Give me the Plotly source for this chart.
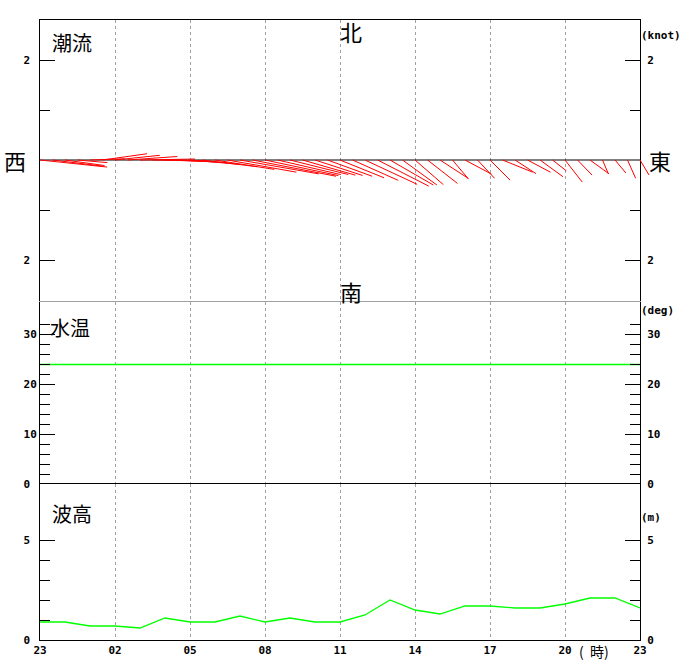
import math
import plotly.graph_objects as go

# ---------------- data ----------------
hours = [0, 1, 2, 3, 4, 5, 6, 7, 8, 9, 10, 11, 12, 13, 14, 15, 16, 17, 18, 19, 20, 21, 22, 23, 24]  # hours since 23:00
x_tick_hours = [0, 3, 6, 9, 12, 15, 18, 21, 24]
x_tick_labels = ['23', '02', '05', '08', '11', '14', '17', '20', '23']

water_temp = [23.9, 23.9, 23.9, 23.9, 23.9, 23.9, 23.9, 23.9, 23.9, 23.9, 23.9, 23.9, 23.9,
              23.9, 23.9, 23.9, 23.9, 23.9, 23.9, 23.9, 23.9, 23.9, 23.9, 23.9, 23.9]
wave_height = [0.9, 0.9, 0.7, 0.7, 0.6, 1.1, 0.9, 0.9, 1.2, 0.9, 1.1, 0.9, 0.9,
               1.25, 2.0, 1.5, 1.3, 1.7, 1.7, 1.6, 1.6, 1.8, 2.1, 2.1, 1.6]

# tidal current every 30 minutes: speed (knot) and direction the flow goes to (deg, clockwise from north)
current_hours = [i * 0.5 for i in range(49)]
current_speed = [1.35, 1.0, 0.8, 0.6, 0.7, 0.9, 0.9, 1.0, 1.1, 1.1, 1.0, 1.0, 1.0, 1.1, 1.2,
                 1.4, 1.6, 1.7, 1.5, 1.3, 1.2, 1.1, 1.0, 0.95, 0.95, 1.0, 1.15, 1.15, 1.0, 0.85,
                 0.75, 0.76, 0.67, 0.5, 0.6, 0.5, 0.57, 0.65, 0.5, 0.52, 0.57, 0.35, 0.56, 0.42,
                 0.47, 0.3, 0.34, 0.4, 0.35]
current_dir = [96, 97, 98, 95, 88, 82, 84, 86, 89, 91, 92, 93, 95, 97, 99,
               100, 100, 101, 102, 103, 104, 106, 108, 110, 112, 114, 115, 117, 120, 126,
               131, 128, 123, 140, 118, 137, 135, 112, 123, 118, 126, 128, 142, 136,
               126, 157, 140, 156, 149]
baseline_hours = [0, 24]
baseline_knot = [0, 0]

# ---------------- geometry helpers ----------------
W, H = 680, 660
ML, MR, MT, MB = 40, 0, 20, 20
PW, PH = W - ML - MR, H - MT - MB


def fx(px):
    return (px - ML) / PW


def fy(py):
    return (H - MB - py) / PH


main_dom = [0, fx(640)]
top_dom = [fy(302), 1]
mid_dom = [fy(484), fy(302)]
bot_dom = [0, fy(484)]

top_range = [-(302 - 160) / 50, (160 - 20) / 50]
mid_range = [0, (484 - 302) / 5]
bot_range = [0, (640 - 484) / 20]

HOURS_PER_KNOT = 2.0  # 50 px per knot, 25 px per hour

# ---------------- traces ----------------
vx, vy = [], []
for t, s, d in zip(current_hours, current_speed, current_dir):
    r = math.radians(d)
    vx += [t, t + s * math.sin(r) * HOURS_PER_KNOT, None]
    vy += [0, s * math.cos(r), None]

fig = go.Figure()
# centre line of the current panel (left and right axes)
fig.add_trace(go.Scatter(x=baseline_hours, y=baseline_knot, xaxis='x', yaxis='y', mode='lines',
                         line=dict(color='black', width=1), hoverinfo='skip'))
fig.add_trace(go.Scatter(x=baseline_hours, y=baseline_knot, xaxis='x', yaxis='y5', mode='lines',
                         line=dict(color='black', width=1), opacity=0, hoverinfo='skip'))
# current vectors
fig.add_trace(go.Scatter(x=vx, y=vy, xaxis='x4', yaxis='y4', mode='lines',
                         line=dict(color='#ff0000', width=1), hoverinfo='skip'))
# water temperature
fig.add_trace(go.Scatter(x=hours, y=water_temp, xaxis='x2', yaxis='y2', mode='lines',
                         line=dict(color='#00ff00', width=1.3), hoverinfo='skip'))
fig.add_trace(go.Scatter(x=hours, y=water_temp, xaxis='x2', yaxis='y6', mode='lines',
                         line=dict(color='#00ff00', width=1.3), opacity=0, hoverinfo='skip'))
# wave height
fig.add_trace(go.Scatter(x=hours, y=wave_height, xaxis='x3', yaxis='y3', mode='lines',
                         line=dict(color='#00ff00', width=1.3), hoverinfo='skip'))
fig.add_trace(go.Scatter(x=hours, y=wave_height, xaxis='x3', yaxis='y7', mode='lines',
                         line=dict(color='#00ff00', width=1.3), opacity=0, hoverinfo='skip'))

tickfont = dict(family='DejaVu Sans Mono', size=11, color='black', weight='bold')
GRID = '#a0a0a0'
NB = '\u00a0'


def xaxis(anchor, side, linecolor, labels=False, mirror=False):
    return dict(anchor=anchor, domain=main_dom, range=[0, 24], side=side, showline=True,
                linecolor=linecolor, linewidth=1, mirror=mirror, ticks='',
                tickmode='array', tickvals=x_tick_hours, ticktext=x_tick_labels,
                showticklabels=labels, tickfont=tickfont, showgrid=True, gridcolor=GRID,
                griddash='3px,3px', gridwidth=1, zeroline=False, fixedrange=True,
                automargin=False)


def yaxis(anchor, dom, rng, tv, tt, minor, side='left', overlaying=None):
    d = dict(anchor=anchor, range=rng, side=side, showline=True, linecolor='black',
             linewidth=1, ticks='inside', ticklen=15, tickcolor='black', tickwidth=1,
             tickmode='array', tickvals=tv, ticktext=tt, tickfont=tickfont,
             minor=dict(tickmode='array', tickvals=minor, ticks='inside', ticklen=10,
                        tickcolor='black', tickwidth=1, showgrid=False),
             showgrid=False, zeroline=False, fixedrange=True, automargin=False)
    if overlaying:
        d['overlaying'] = overlaying
        d['ticklabelstandoff'] = 4
    else:
        d['domain'] = dom
    return d


top_tv, top_tt_l, top_tt_r = [-2, 2], ['2' + NB, '2' + NB], ['2', '2']
top_minor = [-1, 1]
mid_tv, mid_tt_l, mid_tt_r = [0, 10, 20, 30], ['0' + NB, '10', '20', '30'], ['0', '10', '20', '30']
mid_minor = [2, 4, 6, 8, 12, 14, 16, 18, 22, 24, 26, 28, 32]
bot_tv, bot_tt_l, bot_tt_r = [0, 5], ['0' + NB, '5' + NB], ['0', '5']
bot_minor = [1, 2, 3, 4]

layout = dict(
    width=W, height=H, autosize=False, margin=dict(l=ML, r=MR, t=MT, b=MB, autoexpand=False),
    paper_bgcolor='white', plot_bgcolor='rgba(0,0,0,0)', showlegend=False, hovermode=False,
    xaxis=xaxis('y', 'top', 'black'),
    xaxis2=xaxis('y2', 'top', GRID),
    xaxis3=xaxis('y3', 'bottom', 'black', labels=True, mirror=True),
    xaxis4=dict(anchor='y4', domain=[0, 1], range=[0, 24 * PW / 600], visible=False,
                fixedrange=True, automargin=False),
    yaxis=yaxis('x', top_dom, top_range, top_tv, top_tt_l, top_minor),
    yaxis2=yaxis('x2', mid_dom, mid_range, mid_tv, mid_tt_l, mid_minor),
    yaxis3=yaxis('x3', bot_dom, bot_range, bot_tv, bot_tt_l, bot_minor),
    yaxis4=dict(anchor='x4', domain=top_dom, range=top_range, visible=False, fixedrange=True,
                automargin=False),
    yaxis5=yaxis('x', None, top_range, top_tv, top_tt_r, top_minor, side='right', overlaying='y'),
    yaxis6=yaxis('x2', None, mid_range, mid_tv, mid_tt_r, mid_minor, side='right', overlaying='y2'),
    yaxis7=yaxis('x3', None, bot_range, bot_tv, bot_tt_r, bot_minor, side='right', overlaying='y3'),
)
fig.update_layout(**layout)

cjk = 'Noto Sans CJK JP'


def ann(text, px, py, size, xanchor='center', family=cjk, bold=False):
    f = dict(family=family, size=size, color='black')
    if bold:
        f['weight'] = 'bold'
    fig.add_annotation(text=text, x=fx(px), y=fy(py), xref='paper', yref='paper',
                       xanchor=xanchor, yanchor='middle', showarrow=False, font=f)


ann('潮流', 50, 42, 20, 'left')
ann('水温', 48, 327, 20, 'left')
ann('波高', 50, 513, 20, 'left')
ann('北', 351, 31, 22)
ann('南', 351, 291, 22)
ann('西', 15, 160, 22)
ann('東', 660, 160, 22)
ann('(knot)', 639, 36, 11, 'left', 'DejaVu Sans Mono', True)
ann('(deg)', 639, 310, 11, 'left', 'DejaVu Sans Mono', True)
ann('(m)', 639, 517, 11, 'left', 'DejaVu Sans Mono', True)
ann('(' + NB + NB + '時)', 577, 651, 14, 'left')

fig.write_html('out.html',
               config={'responsive': False, 'displayModeBar': False, 'staticPlot': True},
               post_script="document.body.style.margin='0px';document.body.style.overflow='hidden';")
